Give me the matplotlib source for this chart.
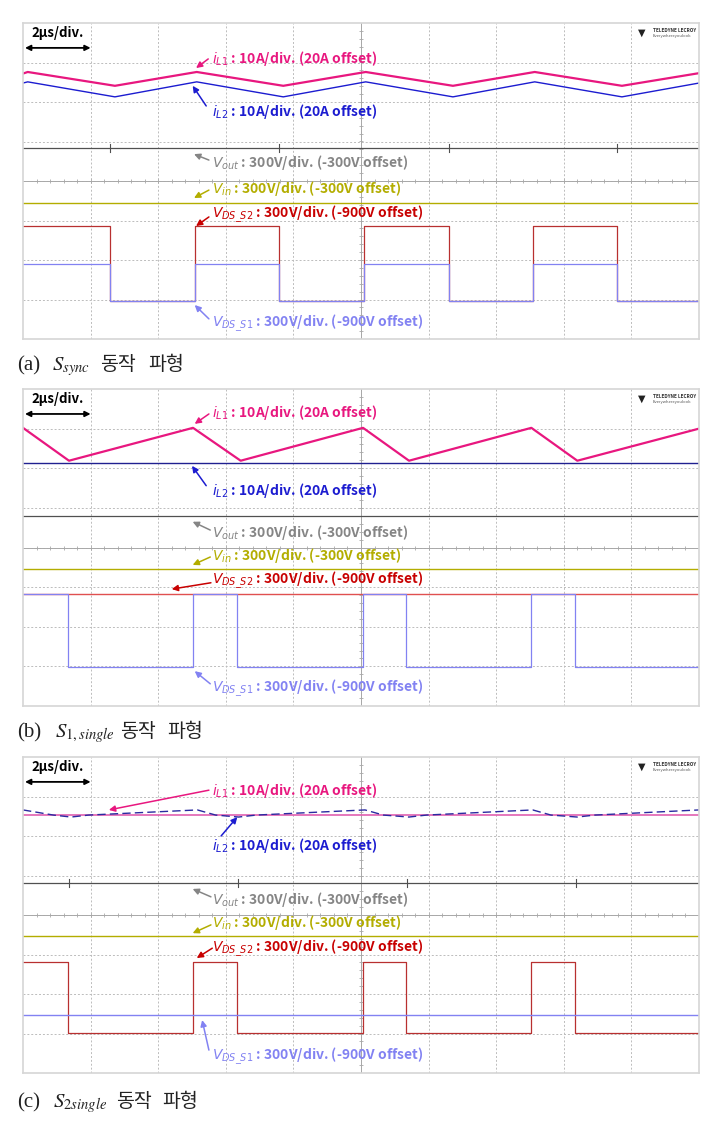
import numpy as np
import matplotlib
matplotlib.use('Agg')
import matplotlib.pyplot as plt

plt.rcParams['font.family'] = ['Noto Sans CJK KR', 'DejaVu Sans']

# screen units: x = 10 div (2us/div), y = 8 div

# (a) S_sync
a_il_t = [0, 0.07, 1.36, 2.57, 3.85, 5.07, 6.36, 7.57, 8.86, 10.0]
a_il1 = [6.72, 6.76, 6.41, 6.76, 6.41, 6.76, 6.41, 6.76, 6.41, 6.73]
a_il2 = [6.48, 6.51, 6.13, 6.51, 6.13, 6.51, 6.13, 6.51, 6.13, 6.48]
a_vout = 4.84
a_vin = 3.44
a_edges = [1.29, 2.54, 3.79, 5.04, 6.30, 7.54, 8.79]
a_s2_hi, a_s1_hi, a_lo = 2.85, 1.90, 0.96
a_spikes = [1.29, 3.79, 6.30, 8.79]

# (b) S_1,single
b_il_t = [0, 0.68, 2.515, 3.22, 5.03, 5.71, 7.52, 8.20, 10.0]
b_il1 = [7.02, 6.19, 7.02, 6.19, 7.02, 6.19, 7.02, 6.19, 7.00]
b_il2 = 6.14
b_vout = 4.80
b_vin = 3.46
b_s2 = 2.83
b_edges = [0.666, 2.515, 3.166, 5.03, 5.666, 7.515, 8.166]
b_s1_hi, b_s1_lo = 2.83, 0.98

# (c) S_2,single
c_il1 = 6.53
c_il2_t = [0, 0.45, 0.71, 0.97, 2.58, 2.85, 3.19, 3.45, 5.06, 5.33, 5.71, 5.97,
           7.54, 7.81, 8.20, 8.46, 10.0]
c_il2 = [6.66, 6.53, 6.48, 6.53, 6.66, 6.53, 6.48, 6.53, 6.66, 6.53, 6.48, 6.53,
         6.66, 6.53, 6.48, 6.53, 6.66]
c_vout = 4.81
c_vin = 3.47
c_edges = [0.666, 2.515, 3.166, 5.03, 5.666, 7.515, 8.166]
c_s2_hi, c_s2_lo = 2.81, 1.01
c_s1 = 1.47
c_spikes = [0.68, 3.18, 5.68, 8.18]

PINK = '#e8177f'
BLUE = '#1c1cd0'
GRAY_T = '#505050'
GRAY_L = '#858585'
OLIVE = '#b3ad00'
RED_T = '#b83030'
RED_L = '#c80000'
LAV = '#8282f2'

L_IL1 = r'$i_{L1}$ : 10A/div. (20A offset)'
L_IL2 = r'$i_{L2}$ : 10A/div. (20A offset)'
L_VOUT = r'$V_{out}$ : 300V/div. (-300V offset)'
L_VIN = r'$V_{in}$ : 300V/div. (-300V offset)'
L_S2 = r'$V_{DS\_S2}$ : 300V/div. (-900V offset)'
L_S1 = r'$V_{DS\_S1}$ : 300V/div. (-900V offset)'

cap_tags = ['(a)', '(b)', '(c)']
cap_syms = [r'$S_{sync}$', r'$S_{1,single}$', r'$S_{2single}$']
cap_words = ['동작', '파형']


def square(edges, hi, lo):
    xs, ys = [0], [hi]
    lvl = hi
    for e in edges:
        nxt = lo if lvl == hi else hi
        xs += [e, e]
        ys += [lvl, nxt]
        lvl = nxt
    xs.append(10)
    ys.append(lvl)
    return xs, ys


def screen(ax):
    ax.set_xlim(0, 10)
    ax.set_ylim(0, 8)
    ax.set_xticks([])
    ax.set_yticks([])
    for s in ax.spines.values():
        s.set_color('#d6d6d6')
        s.set_linewidth(1.2)
    for k in range(1, 10):
        ax.axvline(k, color='#bcbcbc', lw=0.7, ls=(0, (2, 2)), zorder=0)
    for k in range(1, 8):
        ax.axhline(k, color='#bcbcbc', lw=0.7, ls=(0, (2, 2)), zorder=0)
    ax.axvline(5, color='#a8a8a8', lw=0.7, zorder=0)
    ax.axhline(4, color='#a8a8a8', lw=0.7, zorder=0)
    tk = np.arange(0.2, 10, 0.2)
    ax.plot(tk, np.full_like(tk, 4), '|', color='#a8a8a8', ms=3, mew=0.6, zorder=0)
    tk = np.arange(0.2, 8, 0.2)
    ax.plot(np.full_like(tk, 5), tk, '_', color='#a8a8a8', ms=3, mew=0.6, zorder=0)
    # time base marker
    ax.text(0.13, 7.74, '2µs/div.', fontsize=9.5, fontweight='bold', color='black',
            va='center', ha='left')
    ax.annotate('', xy=(1.0, 7.37), xytext=(0.03, 7.37),
                arrowprops=dict(arrowstyle='<|-|>', color='black', lw=1.3,
                                mutation_scale=8, shrinkA=0, shrinkB=0))
    # scope logo
    ax.text(0.915, 0.968, '▼', transform=ax.transAxes, fontsize=7, color='#222222',
            ha='center', va='center', family='DejaVu Sans')
    ax.text(0.932, 0.975, 'TELEDYNE LECROY', transform=ax.transAxes, fontsize=3.4,
            fontweight='bold', color='#333333', ha='left', va='center')
    ax.text(0.932, 0.958, 'Everywhereyoulook', transform=ax.transAxes, fontsize=3,
            color='#555555', ha='left', va='center')


def tag(ax, txt, color, y, tail, head):
    ax.text(2.80, y, txt, color=color, fontsize=10, fontweight='bold',
            va='center', ha='left', math_fontfamily='dejavusans', zorder=5)
    ax.annotate('', xy=head, xytext=tail,
                arrowprops=dict(arrowstyle='-|>', color=color, lw=1.1,
                                mutation_scale=9, shrinkA=0, shrinkB=0), zorder=5)


def spikes(ax, ts, level, color):
    for t in ts:
        ax.plot([t, t], [level - 0.1, level + 0.1], color=color, lw=0.8)


fig = plt.figure(figsize=(7.21, 11.24), dpi=100)
W, H = 721.0, 1124.0
boxes = [(23, 339), (389, 706), (757, 1073)]
axs = []
for top, bot in boxes:
    ax = fig.add_axes([23 / W, 1 - bot / H, 676 / W, (bot - top) / H])
    screen(ax)
    axs.append(ax)

# ---- (a)
ax = axs[0]
ax.plot([0, 10], [a_vout, a_vout], color=GRAY_T, lw=0.9)
spikes(ax, a_spikes, a_vout, GRAY_T)
ax.plot([0, 10], [a_vin, a_vin], color=OLIVE, lw=1.0)
x, y = square(a_edges, a_s2_hi, a_lo)
ax.plot(x, y, color=RED_T, lw=0.9)
x, y = square(a_edges, a_s1_hi, a_lo)
ax.plot(x, y, color=LAV, lw=0.9)
ax.plot(a_il_t, a_il2, color=BLUE, lw=1.0)
ax.plot(a_il_t, a_il1, color=PINK, lw=1.6)
tag(ax, L_IL1, PINK, 7.11, (2.74, 7.09), (2.56, 6.86))
tag(ax, L_IL2, BLUE, 5.75, (2.71, 5.90), (2.51, 6.41))
tag(ax, L_VOUT, GRAY_L, 4.46, (2.75, 4.53), (2.53, 4.68))
tag(ax, L_VIN, OLIVE, 3.80, (2.75, 3.77), (2.53, 3.57))
tag(ax, L_S2, RED_L, 3.16, (2.75, 3.09), (2.56, 2.86))
tag(ax, L_S1, LAV, 0.41, (2.75, 0.51), (2.54, 0.86))

# ---- (b)
ax = axs[1]
ax.plot([0, 10], [b_vout, b_vout], color=GRAY_T, lw=0.9)
ax.plot([0, 10], [b_vin, b_vin], color=OLIVE, lw=1.0)
ax.plot([0, 10], [b_s2, b_s2], color='#e05050', lw=1.0)
x, y = square(b_edges, b_s1_hi, b_s1_lo)
ax.plot(x, y, color=LAV, lw=0.9)
ax.plot([0, 10], [b_il2, b_il2], color='#202090', lw=1.0)
ax.plot(b_il_t, b_il1, color=PINK, lw=1.6)
tag(ax, L_IL1, PINK, 7.40, (2.75, 7.37), (2.54, 7.12))
tag(ax, L_IL2, BLUE, 5.45, (2.71, 5.56), (2.50, 6.06))
tag(ax, L_VOUT, GRAY_L, 4.37, (2.77, 4.44), (2.51, 4.65))
tag(ax, L_VIN, OLIVE, 3.79, (2.77, 3.76), (2.51, 3.56))
tag(ax, L_S2, RED_L, 3.16, (2.78, 3.11), (2.20, 2.95))
tag(ax, L_S1, LAV, 0.45, (2.77, 0.56), (2.54, 0.88))

# ---- (c)
ax = axs[2]
ax.plot([0, 10], [c_vout, c_vout], color=GRAY_T, lw=0.9)
spikes(ax, c_spikes, c_vout, GRAY_T)
ax.plot([0, 10], [c_vin, c_vin], color=OLIVE, lw=1.0)
x, y = square(c_edges, c_s2_hi, c_s2_lo)
ax.plot(x, y, color=RED_T, lw=0.9)
ax.plot([0, 10], [c_s1, c_s1], color=LAV, lw=1.0)
ax.plot([0, 10], [c_il1, c_il1], color='#e060b0', lw=1.2)
ax.plot(c_il2_t, c_il2, color='#2a2aa0', lw=1.0, ls=(0, (6, 3)))
tag(ax, L_IL1, PINK, 7.16, (2.75, 7.16), (1.27, 6.66))
tag(ax, L_IL2, BLUE, 5.77, (2.93, 6.00), (3.17, 6.48))
tag(ax, L_VOUT, GRAY_L, 4.38, (2.78, 4.46), (2.51, 4.66))
tag(ax, L_VIN, OLIVE, 3.80, (2.78, 3.75), (2.51, 3.54))
tag(ax, L_S2, RED_L, 3.16, (2.80, 3.16), (2.57, 2.91))
tag(ax, L_S1, LAV, 0.43, (2.75, 0.58), (2.65, 1.34))

# captions: tag, symbol and Korean words placed separately
cap_y = [370, 737, 1107]
sym_x = [52, 55, 53]
word_x = [(100, 148), (120, 167), (116, 162)]
for i in range(3):
    yb = 1 - cap_y[i] / H
    fig.text(17 / W, yb, cap_tags[i], fontsize=15, color='#222222', va='baseline',
             ha='left', family='Liberation Serif')
    fig.text(sym_x[i] / W, yb, cap_syms[i], fontsize=15, color='#222222',
             va='baseline', ha='left', math_fontfamily='stix')
    for w, xw in zip(cap_words, word_x[i]):
        fig.text(xw / W, yb, w, fontsize=14, color='#222222',
                 va='baseline', ha='left', family=['Noto Sans CJK KR'])

fig.savefig('out.png', dpi=100)
